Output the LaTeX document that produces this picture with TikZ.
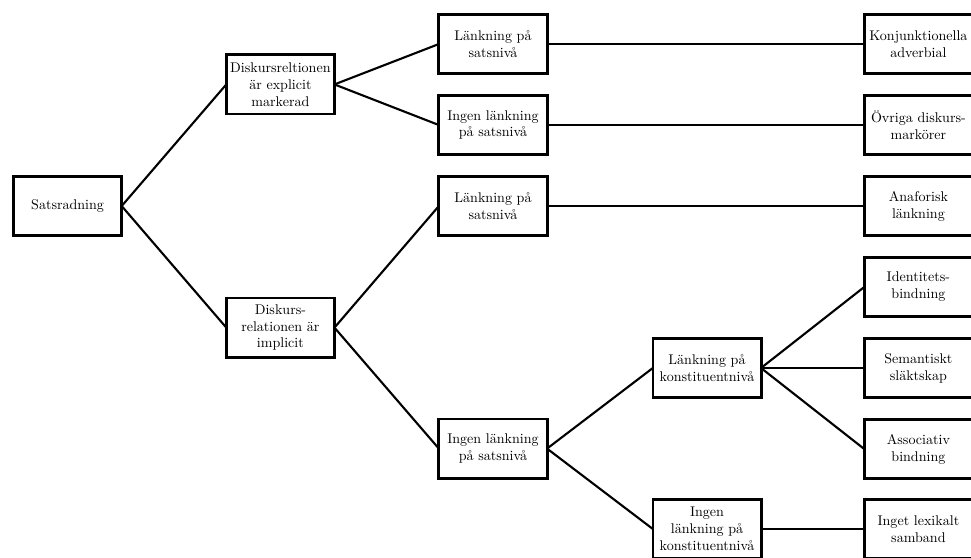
\documentclass[tikz,border=0pt]{standalone}
\usepackage{fontspec}
\usepackage{tkz-graph}
\usetikzlibrary{arrows}
\usetikzlibrary{shapes}

\begin{document}
\begin{tikzpicture}[scale = 10]
	\tikzstyle{VertexStyle} = []
	\tikzstyle{EdgeStyle} = [line width = 1.5pt]
	\tikzstyle{boxStyle}=[shape = rectangle, minimum width = 2.705cm, minimum height = 1.48cm, inner xsep = 1pt, align = center, line width = 2pt, draw]
	\useasboundingbox (0, 0) rectangle (2.4275, 1.395);
	\Vertex[style = boxStyle, x = 0.169, y = 0.88, L = {Satsradning}]{v0}
	\Vertex[style = boxStyle, x = 0.701, y = 1.184, L = {Diskursreltionen\\är explicit\\markerad}]{v1}
	\Vertex[style = boxStyle, x = 0.701, y = 0.576, L = {Diskurs-\\relationen är\\implicit}]{v2}
	\Vertex[style = boxStyle, x = 1.2325, y = 1.285, L = {Länkning på\\satsnivå}]{v3}
	\Vertex[style = boxStyle, x = 1.2325, y = 1.0825, L = {Ingen länkning\\på satsnivå}]{v4}
	\Vertex[style = boxStyle, x = 1.2325, y = 0.88, L = {Länkning på\\satsnivå}]{v5}
	\Vertex[style = boxStyle, x = 1.2325, y = 0.2735, L = {Ingen länkning\\på satsnivå}]{v6}
	\Vertex[style = boxStyle, x = 1.7675, y = 0.475, L = {Länkning på\\konstituentnivå}]{v7}
	\Vertex[style = boxStyle, x = 1.7675, y = 0.0725, L = {Ingen\\länkning på\\konstituentnivå}]{v8}
	\Vertex[style = boxStyle, x = 2.296, y = 1.285, L = {Konjunktionella\\adverbial}]{v9}
	\Vertex[style = boxStyle, x = 2.296, y = 1.0825, L = {Övriga diskurs-\\markörer}]{v10}
	\Vertex[style = boxStyle, x = 2.296, y = 0.88, L = {Anaforisk\\länkning}]{v11}
	\Vertex[style = boxStyle, x = 2.296, y = 0.6775, L = {Identitets-\\bindning}]{v12}
	\Vertex[style = boxStyle, x = 2.296, y = 0.475, L = {Semantiskt\\släktskap}]{v13}
	\Vertex[style = boxStyle, x = 2.296, y = 0.2725, L = {Associativ\\bindning}]{v14}
	\Vertex[style = boxStyle, x = 2.296, y = 0.0725, L = {Inget lexikalt\\samband}]{v15}
	\Edge(v0.east)(v1.west)
	\Edge(v0.east)(v2.west)
	\Edge(v1.east)(v3.west)
	\Edge(v1.east)(v4.west)
	\Edge(v2.east)(v5.west)
	\Edge(v2.east)(v6.west)
	\Edge(v3.east)(v9.west)
	\Edge(v4.east)(v10.west)
	\Edge(v5.east)(v11.west)
	\Edge(v6.east)(v7.west)
	\Edge(v6.east)(v8.west)
	\Edge(v7.east)(v12.west)
	\Edge(v7.east)(v13.west)
	\Edge(v7.east)(v14.west)
	\Edge(v8.east)(v15.west)
\end{tikzpicture}
\end{document}
